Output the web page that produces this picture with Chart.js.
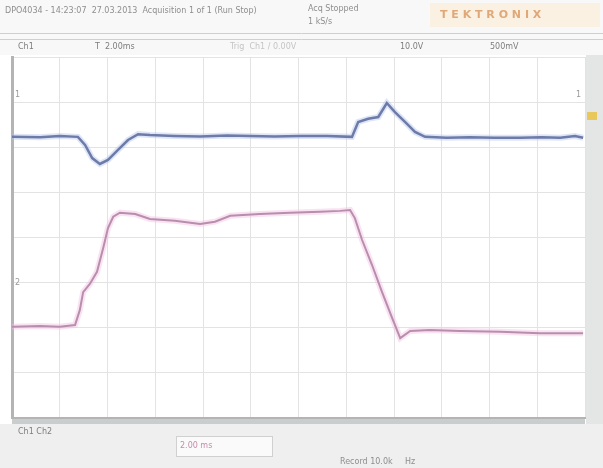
<!DOCTYPE html>
<html>
<head>
<meta charset="utf-8">
<script src="https://cdn.jsdelivr.net/npm/chart.js@4.4.1/dist/chart.umd.min.js"></script>
<style>
  html, body { margin: 0; padding: 0; background: #ffffff; }
  #wrap { width: 603px; height: 468px; position: relative; }
</style>
</head>
<body>
<div id="wrap"><canvas id="scope" width="603" height="468"></canvas></div>
<script>
// time in divisions (12 across), level in divisions (8 high)
const ch1Time  = [0, 0.59, 1.0, 1.38, 1.53, 1.68, 1.84, 2.01, 2.22, 2.43, 2.64, 2.89, 3.4, 3.94, 4.5, 4.98, 5.5, 6.03, 6.6, 7.12, 7.25, 7.46, 7.67, 7.85, 8.02, 8.23, 8.44, 8.65, 9.1, 9.59, 10.1, 10.64, 11.1, 11.48, 11.79, 11.96]
const ch1Level = [6.23, 6.22, 6.25, 6.23, 6.05, 5.76, 5.63, 5.72, 5.94, 6.16, 6.29, 6.27, 6.25, 6.24, 6.26, 6.25, 6.24, 6.25, 6.25, 6.23, 6.56, 6.63, 6.67, 6.98, 6.78, 6.56, 6.34, 6.23, 6.21, 6.22, 6.21, 6.21, 6.22, 6.21, 6.25, 6.21]

const ch2Time  = [0, 0.59, 1.0, 1.32, 1.42, 1.49, 1.63, 1.78, 1.91, 2.01, 2.12, 2.26, 2.58, 2.89, 3.41, 3.94, 4.25, 4.57, 5.19, 5.82, 6.45, 6.87, 7.08, 7.18, 7.33, 7.54, 7.75, 7.96, 8.13, 8.34, 8.75, 9.38, 10.22, 11.06, 11.96]
const ch2Level = [2.02, 2.04, 2.02, 2.06, 2.39, 2.79, 2.97, 3.24, 3.77, 4.21, 4.46, 4.55, 4.52, 4.41, 4.37, 4.30, 4.35, 4.48, 4.52, 4.55, 4.57, 4.59, 4.61, 4.43, 3.95, 3.39, 2.79, 2.22, 1.77, 1.93, 1.95, 1.93, 1.91, 1.88, 1.88]

const divsX = 12
const divsY = 8

const toPoints = (xs, ys) => xs.map((x, i) => ({x: x, y: ys[i]}))

const traceSet = (xs, ys, color, width) => ({
    data: toPoints(xs, ys),
    borderColor: color,
    borderWidth: width,
    pointRadius: 0,
    tension: 0,
    fill: false
})

/* Rahmen, Kopfzeile und Fusszeile wie am Oszilloskop */
const scopeFrame = {
    id: 'scopeFrame',
    beforeDraw(chart) {
        const {ctx, chartArea: a} = chart
        ctx.save()
        // header
        ctx.fillStyle = '#f8f8f8'
        ctx.fillRect(0, 0, 603, a.top - 2)
        ctx.fillStyle = '#fbf1e2'
        ctx.fillRect(430, 3, 170, 24)
        ctx.strokeStyle = '#cfcfcf'
        ctx.lineWidth = 1
        ctx.beginPath()
        ctx.moveTo(0, 33.5); ctx.lineTo(603, 33.5)
        ctx.moveTo(0, 39.5); ctx.lineTo(603, 39.5)
        ctx.stroke()
        // footer
        ctx.fillStyle = '#efefef'
        ctx.fillRect(0, a.bottom + 6, 603, 468 - a.bottom)
        ctx.fillStyle = '#c9cdcd'
        ctx.fillRect(a.left, a.bottom, a.right - a.left, 6)
        ctx.fillStyle = '#fafafa'
        ctx.fillRect(176, 436, 96, 20)
        ctx.strokeStyle = '#d0d0d0'
        ctx.strokeRect(176.5, 436.5, 96, 20)
        // right strip
        ctx.fillStyle = '#e4e6e6'
        ctx.fillRect(a.right + 1, a.top - 2, 603 - a.right, a.bottom - a.top + 8)
        ctx.fillStyle = '#e8c85a'
        ctx.fillRect(a.right + 2, 112, 10, 8)
        ctx.restore()
    },
    afterDraw(chart) {
        const {ctx} = chart
        ctx.save()
        ctx.font = '8px "DejaVu Sans"'
        ctx.textBaseline = 'middle'
        ctx.fillStyle = '#8e8e8e'
        ctx.fillText('DPO4034 - 14:23:07  27.03.2013  Acquisition 1 of 1 (Run Stop)', 5, 11)
        ctx.fillText('Acq Stopped', 308, 9)
        ctx.fillText('1 kS/s', 308, 22)
        ctx.fillStyle = '#e0a878'
        ctx.font = 'bold 11px "DejaVu Sans"'
        ctx.fillText('T E K T R O N I X', 440, 15)
        ctx.font = '8px "DejaVu Sans"'
        ctx.fillStyle = '#7d7d7d'
        ctx.fillText('Ch1  ', 18, 47)
        ctx.fillText('T  2.00ms', 95, 47)
        ctx.fillStyle = '#c4c4c4'
        ctx.fillText('Trig  Ch1 / 0.00V', 230, 47)
        ctx.fillStyle = '#7d7d7d'
        ctx.fillText('10.0V', 400, 47)
        ctx.fillText('500mV', 490, 47)
        ctx.fillText('Ch1 Ch2', 18, 432)
        ctx.fillStyle = '#c98aa8'
        ctx.fillText('2.00 ms', 180, 446)
        ctx.fillStyle = '#8e8e8e'
        ctx.fillText('Record 10.0k', 340, 462)
        ctx.fillText('Hz', 405, 462)
        // channel markers
        ctx.fillStyle = '#9a9a9a'
        ctx.fillText('1', 15, 95)
        ctx.fillText('1', 576, 95)
        ctx.fillText('2', 15, 283)
        ctx.restore()
    }
}

const data = {
    datasets: [
        traceSet(ch1Time, ch1Level, 'rgba(180,198,238,0.45)', 6),
        traceSet(ch2Time, ch2Level, 'rgba(245,190,228,0.45)', 6),
        traceSet(ch1Time, ch1Level, '#353f72', 2.5),
        traceSet(ch2Time, ch2Level, '#86677f', 2)
    ]
}

const options = {
    responsive: false,
    animation: false,
    layout: {padding: {left: 12, right: 18, top: 57, bottom: 50}},
    plugins: {legend: {display: false}, tooltip: {enabled: false}},
    scales: {
        x: {
            type: 'linear', min: 0, max: divsX,
            ticks: {display: false, stepSize: 1},
            grid: {color: '#e3e3e3', lineWidth: 1, drawTicks: false},
            border: {color: '#b4b4b4', width: 2}
        },
        y: {
            type: 'linear', min: 0, max: divsY,
            ticks: {display: false, stepSize: 1},
            grid: {color: '#e3e3e3', lineWidth: 1, drawTicks: false},
            border: {color: '#b4b4b4', width: 3}
        }
    }
}

new Chart('scope', {type: 'line', data, options, plugins: [scopeFrame]})
</script>
</body>
</html>
